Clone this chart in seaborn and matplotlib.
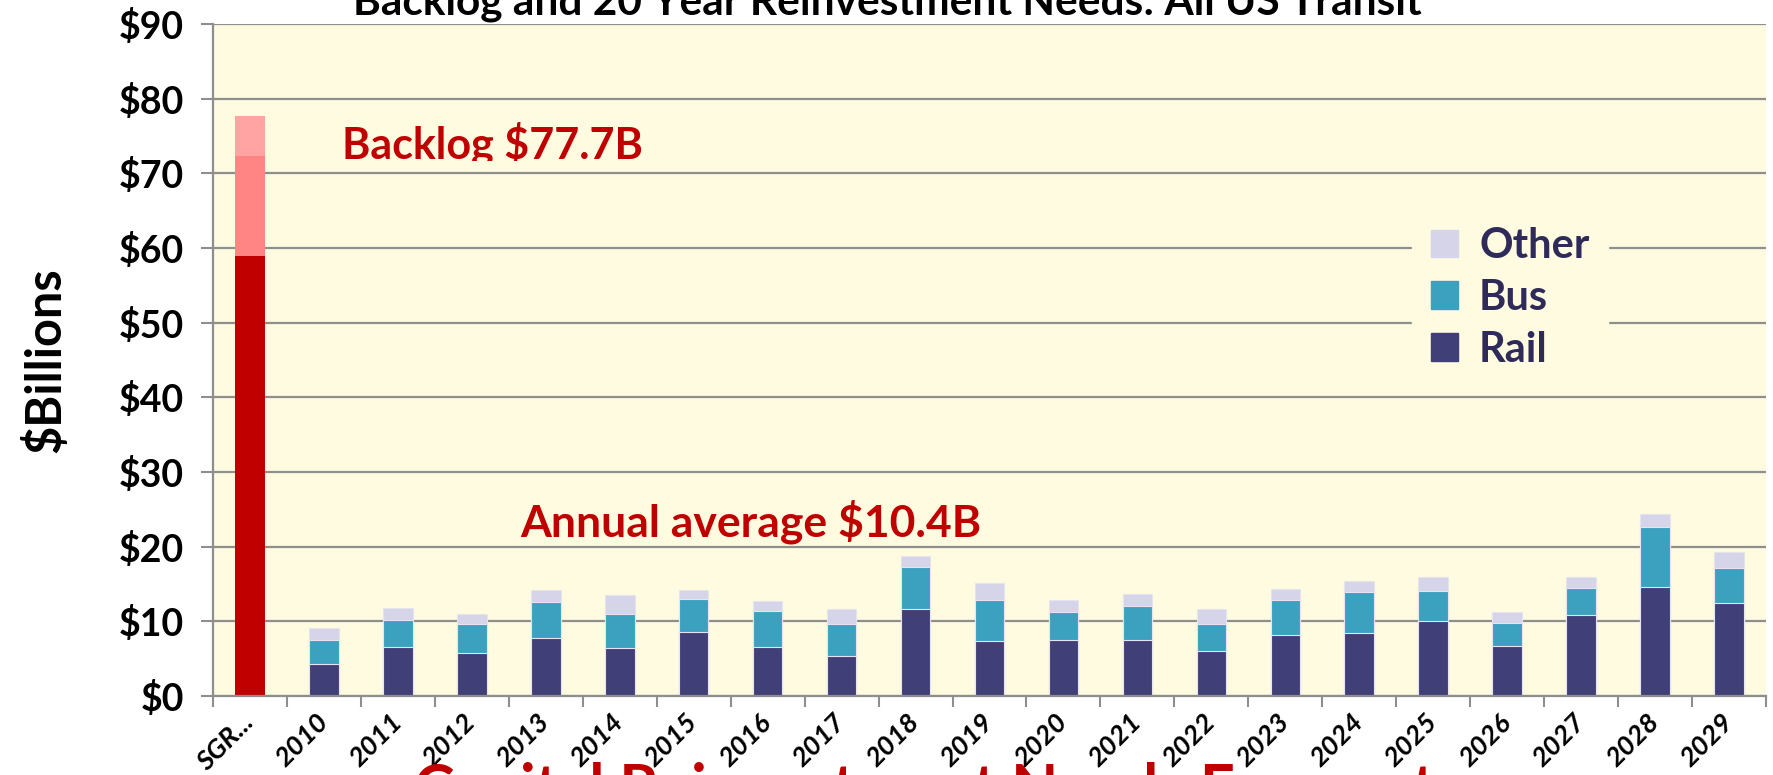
import numpy as np
import pandas as pd
import seaborn as sns
import matplotlib.pyplot as plt
from matplotlib.patches import Patch
from matplotlib.transforms import Bbox, TransformedBbox

# values ($ billions)
years = [str(y) for y in range(2010, 2030)]
rail = [4.3, 6.6, 5.8, 7.8, 6.4, 8.6, 6.6, 5.3, 11.7, 7.3, 7.5, 7.5, 6.0, 8.2, 8.4, 10.0, 6.7, 10.8, 14.6, 12.4]
bus = [3.2, 3.6, 3.8, 4.8, 4.6, 4.4, 4.8, 4.4, 5.6, 5.6, 3.7, 4.6, 3.6, 4.7, 5.5, 4.1, 3.1, 3.7, 8.0, 4.7]
other = [1.6, 1.6, 1.4, 1.6, 2.5, 1.2, 1.3, 1.9, 1.4, 2.2, 1.6, 1.6, 2.0, 1.4, 1.5, 1.9, 1.4, 1.5, 1.8, 2.2]
backlog_label = "SGR..."
backlog = [58.9, 13.45, 5.35]  # three shades of the backlog bar
yticks = [0, 10, 20, 30, 40, 50, 60, 70, 80, 90]

cats = [backlog_label] + years
df = pd.DataFrame({"cat": years, "rail": rail, "bus": bus, "other": other})
df["rail_bus"] = df["rail"] + df["bus"]
df["total"] = df["rail_bus"] + df["other"]
bk = pd.DataFrame({"cat": [backlog_label],
                   "b1": [backlog[0]],
                   "b2": [backlog[0] + backlog[1]],
                   "b3": [sum(backlog)]})

sns.set_style("white")
plt.rcParams["font.family"] = ["Lato", "DejaVu Sans"]
plt.rcParams["font.weight"] = "bold"
plt.rcParams["text.color"] = "black"
plt.rcParams["xtick.color"] = "black"
plt.rcParams["ytick.color"] = "black"
plt.rcParams["axes.labelcolor"] = "black"

bg = "#FEFBE1"
grid = "#8E8E8E"
c_rail, c_bus, c_other = "#413F77", "#3BA1BF", "#D6D4E9"

fig = plt.figure(figsize=(17.74, 7.75), dpi=100)
ax = fig.add_axes([213 / 1774, 1 - 696 / 775, (1766 - 213) / 1774, (696 - 24) / 775])
ax.set_facecolor(bg)

kw = dict(order=cats, width=0.4, ax=ax, linewidth=0.8, edgecolor="#E6E4EF", saturation=1)
sns.barplot(data=df, x="cat", y="total", color=c_other, **kw)
sns.barplot(data=df, x="cat", y="rail_bus", color=c_bus, **kw)
sns.barplot(data=df, x="cat", y="rail", color=c_rail, **kw)
kw["edgecolor"] = "none"
sns.barplot(data=bk, x="cat", y="b3", color="#FFA3A3", **kw)
sns.barplot(data=bk, x="cat", y="b2", color="#FF8585", **kw)
sns.barplot(data=bk, x="cat", y="b1", color="#C00000", **kw)

ax.set_ylim(0, 90)
ax.set_xlim(-0.5, len(cats) - 0.5)
ax.set_yticks(yticks)
ax.set_yticklabels([f"${v}" for v in yticks], fontsize=27, fontweight="bold")
ax.yaxis.grid(True, color=grid, linewidth=1.6)
ax.set_axisbelow(True)
ax.tick_params(axis="y", length=9, width=1.5, color=grid, pad=12, left=True, labelcolor="black")

ax.set_xticks(range(len(cats)))
ax.set_xticklabels(cats, rotation=45, ha="right", va="center", rotation_mode="anchor",
                   fontsize=19.5, fontweight="bold", fontstyle="italic")
ax.tick_params(axis="x", which="major", length=0, pad=16, labelcolor="black")
ax.set_xticks(np.arange(len(cats) + 1) - 0.5, minor=True)
ax.tick_params(axis="x", which="minor", length=8, width=1.5, color=grid, bottom=True)
ax.set_xlabel("")
ax.set_ylabel("$Billions", fontsize=35, fontweight="bold", color="black")
ax.yaxis.set_label_coords(-0.0934, 0.5)

for s in ["top", "right"]:
    ax.spines[s].set_visible(False)
for s in ["left", "bottom"]:
    ax.spines[s].set_color(grid)
    ax.spines[s].set_linewidth(1.6)

handles = [Patch(color=c_other, label="Other"), Patch(color=c_bus, label="Bus"),
           Patch(color=c_rail, label="Rail")]
leg = ax.legend(handles=handles, loc="upper left", bbox_to_anchor=(0.779, 0.71),
                frameon=True, facecolor=bg, edgecolor=bg, framealpha=1,
                fontsize=30, handlelength=0.65, handleheight=0.65, handletextpad=0.5,
                labelspacing=0.33, borderpad=0.2, borderaxespad=0)
leg.get_frame().set_boxstyle("square", pad=0.25)
for t in leg.get_texts():
    t.set_color("#2E2B5A")
    t.set_fontweight("bold")

red = "#C00000"
t = ax.text(1.25, 73.9, "Backlog $77.7B", color=red, fontsize=31, fontweight="bold", va="center")
t.set_clip_box(TransformedBbox(Bbox([[-0.5, 71.6], [20.5, 90]]), ax.transData))
t.set_clip_on(True)
ax.text(3.65, 23.3, "Annual average $10.4B", color=red, fontsize=32, fontweight="bold", va="center")

fig.text(0.5, 1 - 14 / 775, "Backlog and 20 Year Reinvestment Needs: All US Transit",
         ha="center", va="baseline", fontsize=30.5, fontweight="bold", color="black")
fig.text(0.521, 1 - 762 / 775, "Capital Reinvestment Needs Forecast",
         ha="center", va="top", fontsize=44, fontweight="bold", color=red)

fig.savefig("out.png", dpi=100, facecolor="white")
